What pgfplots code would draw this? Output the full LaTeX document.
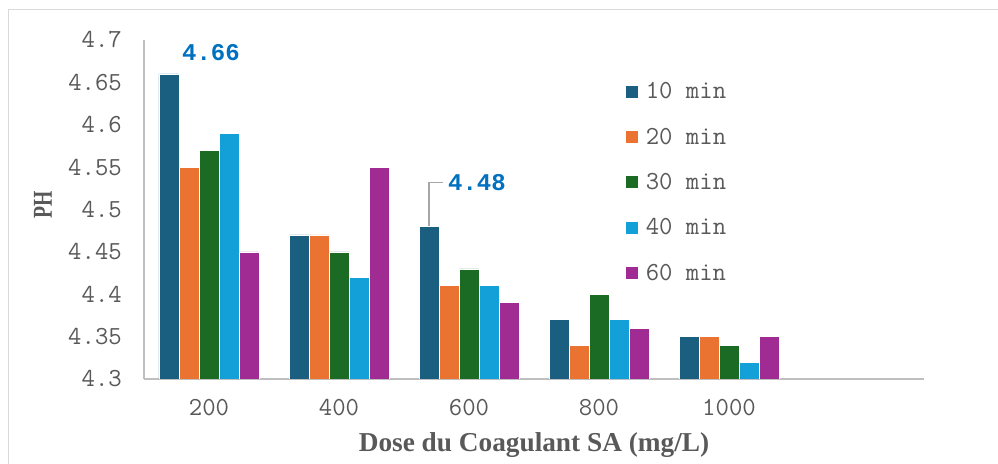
\documentclass[border=0pt]{standalone}
\usepackage{fontspec}
\setmainfont{Liberation Serif}
\newfontfamily\labfont{Liberation Mono}
\usepackage{graphicx}
\usepackage{pgfplots}
\pgfplotsset{compat=1.18}
\definecolor{c1}{HTML}{1A5E80}
\definecolor{c2}{HTML}{EB7332}
\definecolor{c3}{HTML}{1C6B25}
\definecolor{c4}{HTML}{13A0D8}
\definecolor{c5}{HTML}{A02C93}
\definecolor{txt}{HTML}{595959}
\definecolor{axl}{HTML}{BFBFBF}
\definecolor{lab}{HTML}{0070C0}
\newcommand{\mono}{\ttfamily\fontsize{26bp}{28bp}\selectfont}
\begin{document}
\begin{tikzpicture}
\draw[color=black!15, line width=1bp] (8bp,0bp) -- (8bp,454bp) -- (998bp,454bp);
\begin{axis}[
  at={(144bp,85bp)}, anchor=south west,
  scale only axis, width=780bp, height=339bp,
  ybar=0pt, bar width=20bp,
  xmin=-0.5, xmax=5.5, ymin=4.3, ymax=4.7,
  xtick={0,1,2,3,4}, xticklabels={200,400,600,800,1000},
  ytick={4.3,4.35,4.4,4.45,4.5,4.55,4.6,4.65,4.7},
  yticklabels={4.3,4.35,4.4,4.45,4.5,4.55,4.6,4.65,4.7},
  axis x line*=bottom, axis y line*=left,
  axis line style={axl, line width=1.3bp, -},
  major tick length=0pt,
  tick label style={font=\mono, text=txt, inner sep=0pt},
  yticklabel style={anchor=east, xshift=-22bp},
  xticklabel style={anchor=north, yshift=-20bp},
  xlabel={Dose du Coagulant SA (mg/L)}, ylabel={\scalebox{0.72}[1]{PH}},
  label style={font=\bfseries\fontsize{27.3bp}{30bp}\selectfont, text=txt},
  xlabel style={at={(axis description cs:0.5,-0.215)}, anchor=base},
  ylabel style={at={(axis description cs:-0.1295,0.515)}, anchor=center},
  legend image code/.code={\fill[#1] (0bp,-6bp) rectangle (13bp,7bp);},
  legend style={at={(0.6167,0.869)}, anchor=north west, draw=none, fill=none,
    font=\mono, text=txt, row sep=31bp, inner sep=0pt,
    nodes={inner sep=0pt, text height=14bp, text depth=0bp},
    /tikz/every odd column/.append style={column sep=7bp}},
  legend cell align=left,
  every axis plot/.append style={draw=white, line width=0.6bp},
]
\addplot[fill=c1] coordinates {(0,4.66) (1,4.47) (2,4.48) (3,4.37) (4,4.35)};
\addplot[fill=c2] coordinates {(0,4.55) (1,4.47) (2,4.41) (3,4.34) (4,4.35)};
\addplot[fill=c3] coordinates {(0,4.57) (1,4.45) (2,4.43) (3,4.40) (4,4.34)};
\addplot[fill=c4] coordinates {(0,4.59) (1,4.42) (2,4.41) (3,4.37) (4,4.32)};
\addplot[fill=c5] coordinates {(0,4.45) (1,4.55) (2,4.39) (3,4.36) (4,4.35)};
\legend{10 min,20 min,30 min,40 min,60 min}
\draw[black!35, line width=1.2bp] ([xshift=-40bp]axis cs:2,4.48) -- ([xshift=-40bp]axis cs:2,4.5318) -- ([xshift=-26bp]axis cs:2,4.5318);
\node[font=\labfont\bfseries\fontsize{24bp}{26bp}\selectfont, text=lab] at ([xshift=2bp]axis cs:0,4.685) {4.66};
\node[font=\labfont\bfseries\fontsize{24bp}{26bp}\selectfont, text=lab] at ([xshift=8bp]axis cs:2,4.5313) {4.48};
\end{axis}
\pgfresetboundingbox
\useasboundingbox (0,0) rectangle (998bp,464bp);
\end{tikzpicture}
\end{document}
